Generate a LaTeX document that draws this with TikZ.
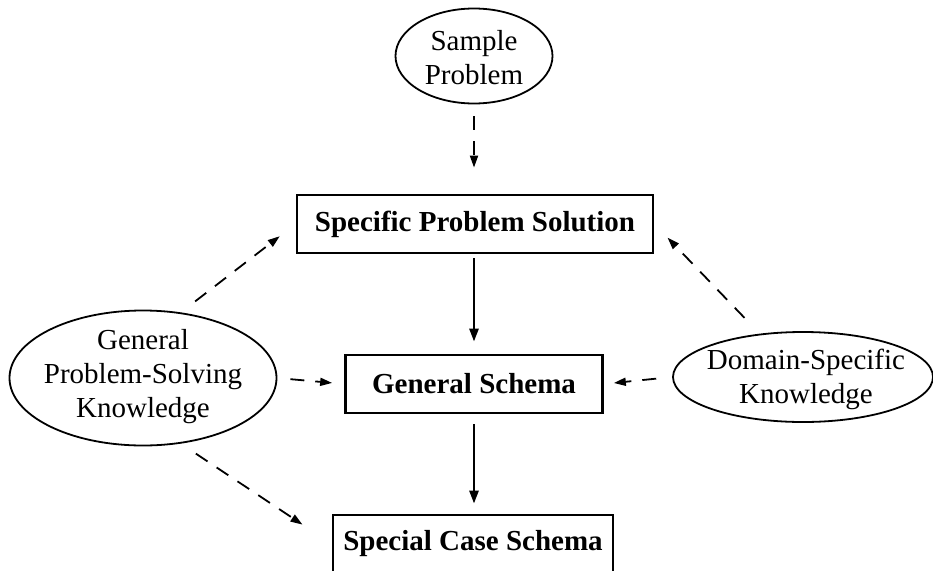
\documentclass[tikz,border=0pt]{standalone}
\usepackage{fontspec}
\setmainfont{Liberation Serif}
\usetikzlibrary{shapes.geometric,arrows.meta}
\begin{document}
\begin{tikzpicture}[x=1pt,y=-1pt,
  boxnode/.style={draw,line width=2.8pt,rectangle,inner sep=0pt,
    font=\fontsize{29}{33}\selectfont\bfseries},
  ellnode/.style={draw,line width=1.8pt,ellipse,inner sep=0pt},
  elltext/.style={inner sep=0pt,align=center,font=\fontsize{29}{34}\selectfont},
  solidarrow/.style={line width=2.6pt,-{Triangle[length=13pt,width=9pt]}},
  dasharrow/.style={line width=1.8pt,dash pattern=on 14pt off 11pt,-{Triangle[length=12pt,width=8pt]}}
]
\useasboundingbox (0,0) rectangle (933,570);
\clip (0,0) rectangle (933,570);

\node[ellnode,minimum width=157pt,minimum height=95pt] (sp) at (474,56) {};
\node[elltext] (spt) at (474,58) {Sample\\Problem};
\node[boxnode,minimum width=356pt,minimum height=58pt] (sps) at (475,224) {Specific Problem Solution};
\node[boxnode,minimum width=257pt,minimum height=58pt] (gs) at (474,384) {General Schema};
\node[boxnode,minimum width=280pt,minimum height=58pt] (scs) at (473,544) {Special Case Schema};
\node[ellnode,minimum width=267pt,minimum height=135pt] (gpsk) at (143,378) {};
\node[elltext] (gpskt) at (143,377) {General\\Problem-Solving\\Knowledge};
\node[ellnode,minimum width=260pt,minimum height=90pt] (dsk) at (803,377) {};
\node[elltext] (dskt) at (806,379) {Domain-Specific\\Knowledge};

\draw[dasharrow,shorten <=12pt,shorten >=26pt] (sp) -- (sps.north -| sp);
\draw[solidarrow,shorten <=4pt,shorten >=12pt] (sps.south -| gs) -- (gs);
\draw[solidarrow,shorten <=10pt,shorten >=10pt] (gs) -- (scs.north -| gs);
\draw[dasharrow,shorten <=13pt,shorten >=12pt] (gpsk.east) -- (gs.west);
\draw[dasharrow,shorten <=16pt,shorten >=10pt] (dsk.west) -- (gs.east);
\draw[dasharrow,shorten <=18pt,shorten >=20pt] (gpsk.60) -- (sps.west);
\draw[dasharrow,shorten <=18pt,shorten >=35pt] (gpsk.-60) -- (scs.west);
\draw[dasharrow,shorten <=22pt,shorten >=19pt] (dsk.135) -- (sps.east);
\end{tikzpicture}
\end{document}
